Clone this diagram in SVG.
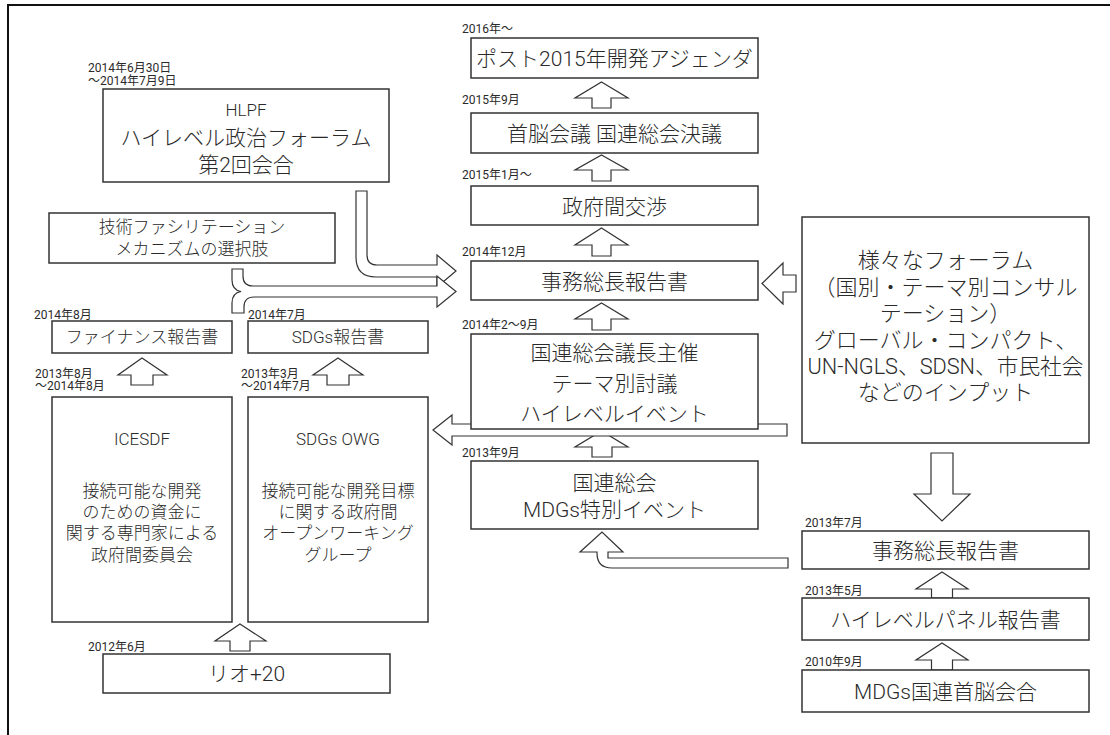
<svg xmlns="http://www.w3.org/2000/svg" width="1110" height="735" viewBox="0 0 1110 735">
<style>
text{font-family:Roboto,"Noto Sans CJK JP",sans-serif;fill:#2a2a2a;font-weight:300}
.b{fill:#fff;stroke:#333;stroke-width:1.5}
.a{fill:#fff;stroke:#333;stroke-width:1.2;stroke-linejoin:miter}
.d{font-size:12px;font-weight:400}
.t21{font-size:21px;text-anchor:middle}
.t17{font-size:17px;text-anchor:middle}
.t22{font-size:22px;text-anchor:middle}
</style>
<rect width="1110" height="735" fill="#fff"/>
<path d="M8,735 L8,5 L1110,5" fill="none" stroke="#111" stroke-width="2"/>
<g id="connectors">
<path class="a" d="M601.5,82 L628,98 L611,98 L611,108 L592,108 L592,98 L575,98 Z"/>
<path class="a" d="M601.5,155 L628,170 L611,170 L611,181 L592,181 L592,170 L575,170 Z"/>
<path class="a" d="M601.5,228 L628,245 L611,245 L611,256 L592,256 L592,245 L575,245 Z"/>
<path class="a" d="M601.5,303 L628,319 L611,319 L611,330 L592,330 L592,319 L575,319 Z"/>
<path class="a" d="M601.5,431 L628,447 L612,447 L612,457 L592,457 L592,447 L575,447 Z"/>
<path class="a" d="M433,430 L452,415 L452,424 L787,424 L787,436 L452,436 L452,445 Z"/>
<path class="a" d="M788,558 L608,558 L608,552 L623,552 L602,532 L580,552 L597,552 L597,553 Q597,568 612,568 L788,568 Z"/>
<path class="a" d="M762,283.5 L783,263 L783,275 L796,275 L796,292 L783,292 L783,304 Z"/>
<path class="a" d="M931,453 L953,453 L953,494 L970,494 L942,521 L914,494 L931,494 Z"/>
<path class="a" d="M942,572 L968,589 L952.5,589 L952.5,598 L931.5,598 L931.5,589 L916,589 Z"/>
<path class="a" d="M942,643 L968,660 L952.5,660 L952.5,670 L931.5,670 L931.5,660 L916,660 Z"/>
<path class="a" d="M142,358 L167,375 L153,375 L153,385 L131,385 L131,375 L118,375 Z"/>
<path class="a" d="M338,358 L363,375 L349,375 L349,385 L327,385 L327,375 L313,375 Z"/>
<path class="a" d="M240,624 L266,641 L250,641 L250,651 L230,651 L230,641 L215,641 Z"/>
<path class="a" d="M356,191 L367,191 L367,255 Q367,265 377,265 L437,265 L437,255 L456,271 L437,287 L437,277 L376,277 Q356,277 356,257 Z"/>
<path class="a" d="M232,269 L243,269 L243,276 Q243,286 253,286 L437,286 L437,276 L456,291.5 L437,307 L437,297 L254,297 Q244,297 244,307 L244,313 L232,313 L232,303 Q232,293 241,291.5 Q232,290 232,280 Z"/>
</g>
<g id="n-post2015">
<text class="d" x="462" y="33">2016年～</text>
<rect class="b" x="471" y="38" width="287" height="40"/>
<text class="t21" x="614.5" y="66">ポスト2015年開発アジェンダ</text>
</g>
<g id="n-summit">
<text class="d" x="462" y="104">2015年9月</text>
<rect class="b" x="471" y="113" width="287" height="40"/>
<text class="t21" x="614.5" y="141">首脳会議 国連総会決議</text>
</g>
<g id="n-negotiation">
<text class="d" x="462" y="179">2015年1月～</text>
<rect class="b" x="471" y="186" width="287" height="39"/>
<text class="t21" x="614.5" y="213.5">政府間交渉</text>
</g>
<g id="n-sg-report-2014">
<text class="d" x="462" y="256">2014年12月</text>
<rect class="b" x="471" y="261" width="287" height="39"/>
<text class="t21" x="614.5" y="288.5">事務総長報告書</text>
</g>
<g id="n-pga">
<text class="d" x="462" y="329">2014年2～9月</text>
<rect class="b" x="471" y="334" width="287" height="95"/>
<text class="t21" x="614.5" y="360">国連総会議長主催</text>
<text class="t21" x="614.5" y="391">テーマ別討議</text>
<text class="t21" x="614.5" y="421">ハイレベルイベント</text>
</g>
<g id="n-mdgs-event">
<text class="d" x="462" y="457">2013年9月</text>
<rect class="b" x="471" y="461" width="287" height="68"/>
<text class="t21" x="614.5" y="490">国連総会</text>
<text class="t21" x="614.5" y="517">MDGs特別イベント</text>
</g>
<g id="n-hlpf">
<text class="d" x="88" y="72">2014年6月30日</text>
<text class="d" x="88" y="85">～2014年7月9日</text>
<rect class="b" x="103" y="89" width="286" height="93"/>
<text class="t17" x="246" y="116">HLPF</text>
<text class="t21" x="246" y="145">ハイレベル政治フォーラム</text>
<text class="t21" x="246" y="172">第2回会合</text>
</g>
<g id="n-tfm">
<rect class="b" x="49" y="213" width="286" height="50"/>
<text class="t17" x="192" y="233">技術ファシリテーション</text>
<text class="t17" x="192" y="255">メカニズムの選択肢</text>
</g>
<g id="n-finance-report">
<text class="d" x="34" y="319">2014年8月</text>
<rect class="b" x="52" y="321" width="180" height="32"/>
<text class="t17" x="142" y="343">ファイナンス報告書</text>
</g>
<g id="n-sdgs-report">
<text class="d" x="248" y="319">2014年7月</text>
<rect class="b" x="248" y="321" width="180" height="32"/>
<text class="t17" x="338" y="343">SDGs報告書</text>
</g>
<g id="n-icesdf">
<text class="d" x="35" y="378">2013年8月</text>
<text class="d" x="35" y="390">～2014年8月</text>
<rect class="b" x="52" y="397" width="180" height="225"/>
<text class="t17" x="142" y="445">ICESDF</text>
<text class="t17" x="142" y="497">接続可能な開発</text>
<text class="t17" x="142" y="518">のための資金に</text>
<text class="t17" x="142" y="539">関する専門家による</text>
<text class="t17" x="142" y="561">政府間委員会</text>
</g>
<g id="n-owg">
<text class="d" x="241" y="378">2013年3月</text>
<text class="d" x="241" y="390">～2014年7月</text>
<rect class="b" x="248" y="397" width="180" height="225"/>
<text class="t17" x="338" y="445">SDGs OWG</text>
<text class="t17" x="338" y="497">接続可能な開発目標</text>
<text class="t17" x="338" y="518">に関する政府間</text>
<text class="t17" x="338" y="539">オープンワーキング</text>
<text class="t17" x="338" y="561">グループ</text>
</g>
<g id="n-rio20">
<text class="d" x="88" y="651">2012年6月</text>
<rect class="b" x="103" y="654" width="287" height="39"/>
<text class="t21" x="246.5" y="681">リオ+20</text>
</g>
<g id="n-forums">
<rect class="b" x="802" y="217" width="287" height="226"/>
<text class="t22" x="945.5" y="268">様々なフォーラム</text>
<text class="t22" x="945.5" y="295">（国別・テーマ別コンサル</text>
<text class="t22" x="945.5" y="321">テーション）</text>
<text class="t22" x="945.5" y="348">グローバル・コンパクト、</text>
<text class="t22" x="945.5" y="374" textLength="276" lengthAdjust="spacingAndGlyphs">UN-NGLS、SDSN、市民社会</text>
<text class="t22" x="945.5" y="400">などのインプット</text>
</g>
<g id="n-sg-report-2013">
<text class="d" x="805" y="527">2013年7月</text>
<rect class="b" x="802" y="531" width="287" height="38"/>
<text class="t21" x="945.5" y="558">事務総長報告書</text>
</g>
<g id="n-hlp-report">
<text class="d" x="805" y="595">2013年5月</text>
<rect class="b" x="802" y="598" width="287" height="42"/>
<text class="t21" x="945.5" y="627">ハイレベルパネル報告書</text>
</g>
<g id="n-mdgs-summit">
<text class="d" x="805" y="666">2010年9月</text>
<rect class="b" x="802" y="670" width="287" height="42"/>
<text class="t21" x="945.5" y="699">MDGs国連首脳会合</text>
</g>
</svg>
